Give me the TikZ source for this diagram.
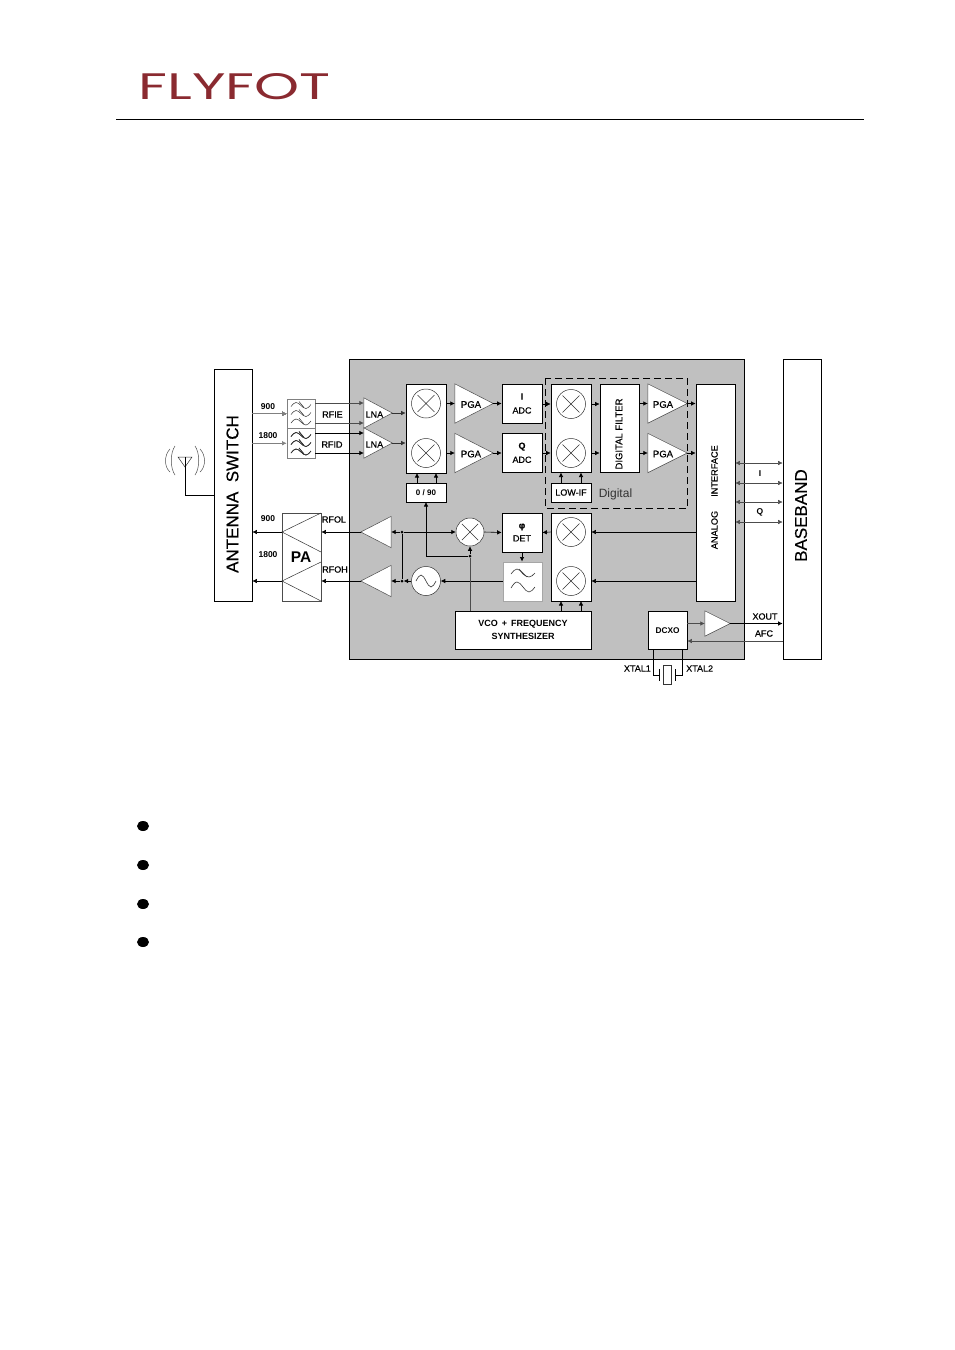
\documentclass[tikz,border=0pt]{standalone}
\usepackage{fontspec}
\setmainfont{Liberation Sans}
\newfontfamily\fb{Liberation Sans}[FakeBold=0.35]
\newfontfamily\logofont{Poppins}
\usetikzlibrary{arrows.meta,calc}
\definecolor{blockgrey}{HTML}{C0C0C0}
\definecolor{logored}{HTML}{8A2A30}
\tikzset{
  box/.style={draw=black,fill=white,line width=0.7pt,inner sep=0pt,align=center,font=\fb\fontsize{9}{11}\selectfont},
  greybox/.style={box,draw=gray,line width=0.8pt},
  lfbox/.style={box,draw=black!35,line width=1pt},
  hollow/.style={inner sep=0pt,font=\fb\fontsize{9.5}{11}\selectfont},
  arr/.style={-{Latex[length=4.5pt,width=4.5pt]},line width=0.6pt},
  darr/.style={{Latex[length=4.5pt,width=4.5pt]}-{Latex[length=4.5pt,width=4.5pt]},line width=0.5pt,draw=black!70},
  wire/.style={line width=0.6pt},
  tiny/.style={inner sep=0pt,font=\fb\fontsize{9}{10}\selectfont},
  tinyb/.style={inner sep=0pt,font=\bfseries\fontsize{8.5}{10}\selectfont},
  tri/.style={draw=black!70,fill=white,line width=0.5pt},
  wave/.style={line width=0.5pt,draw=black!80},
  junction/.style={circle,fill=black,inner sep=0pt,minimum size=3pt},
}
\newcommand{\bx}[7]{\node[#6,minimum width={(#4-#2)*1pt},minimum height={(#5-#3)*1pt}] (#1) at ({(#2+#4)/2},{(#3+#5)/2}) {#7};}
% mixer circle
\newcommand{\mix}[4]{\node[draw=black!80,fill=white,circle,line width=0.5pt,inner sep=0pt,minimum size={2*#4*1pt}] (#1) at (#2,#3) {};
  \draw[line width=0.5pt,draw=black!80] ($(#1)+({-.58*#4},{-.58*#4})$) -- ($(#1)+({.58*#4},{.58*#4})$) ($(#1)+({-.58*#4},{.58*#4})$) -- ($(#1)+({.58*#4},{-.58*#4})$);}
% wave with a slash: centre x, y
\newcommand{\wv}[2]{\draw[wave] (#1-10,#2+1) sin (#1-5,#2-3) cos (#1,#2) sin (#1+5,#2+3) cos (#1+10,#2-1);
  \draw[wave] (#1-2,#2-4) -- (#1+3,#2+2);}
\begin{document}
\begin{tikzpicture}[x=1pt,y=-1pt]
\useasboundingbox (0,0) rectangle (954,1350);
\fill[white] (0,0) rectangle (954,1350);

% header
\node[inner sep=0pt,text=logored] (logo) at (234.5,87) {\resizebox{192pt}{26pt}{\logofont FLYFOT}};
\coordinate (ruleL) at (116,119.5); \coordinate (ruleR) at (864,119.5);
\draw[line width=0.8pt] (ruleL) -- (ruleR);

% bullets
\foreach \yy in {826,865,904,942} \fill (143,\yy) ellipse (6 and 5);

% grey block
\bx{chip}{349}{359}{744.5}{659}{box,fill=blockgrey}{}

% outer boxes
\bx{sw}{214}{369}{252}{601}{box}{}
\node[rotate=90,inner sep=0pt,font=\fb\fontsize{17}{17}\selectfont] (swlab) at (232.5,494) {ANTENNA\ \ SWITCH};
\bx{bb}{783}{359}{821}{659}{box}{}
\node[rotate=90,inner sep=0pt,font=\fb\fontsize{17}{17}\selectfont] (bblab) at (801,515.5) {BASEBAND};

% antenna
\coordinate (antT) at (185,467);
\coordinate (antC) at (185,495);
\draw[line width=0.5pt,draw=black!80] (178,457) -- (192,457) -- (antT) -- cycle;
\draw[line width=0.6pt] (185,457) -- (antC) -- (antC -| sw.west);
\draw[line width=0.5pt,draw=black!70] (175,446) .. controls (170,453) and (170,468) .. (175,475);
\draw[line width=0.5pt,draw=black!70] (170,449) .. controls (164,455) and (164,467) .. (170,472);
\draw[line width=0.5pt,draw=black!70] (195,446) .. controls (200,453) and (200,468) .. (195,475);
\draw[line width=0.5pt,draw=black!70] (200,449) .. controls (206,455) and (206,467) .. (200,472);

% receive filters
\bx{fa}{287}{399}{315}{428.5}{greybox}{}
\bx{fb}{287}{428.5}{315}{458}{greybox}{}
\foreach \yy in {405.5,413.5,422} \wv{301}{\yy}
\foreach \yy in {435.5,443.5,452} \wv{301}{\yy}
\draw[arr,draw=gray] (sw.east |- fa.west) -- (fa.west);
\draw[arr,draw=gray] (sw.east |- fb.west) -- (fb.west);
\node[tinyb] (n900a) at (268,407) {900};
\node[tinyb] (n1800a) at (268,436) {1800};
\node[tiny] (rfie) at (332.5,414.5) {RFIE};
\node[tiny] (rfid) at (332,444.5) {RFID};

% LNA
\node[hollow,minimum width=28pt,minimum height=30pt] (lna1) at (378,413) {};
\node[hollow,minimum width=28pt,minimum height=30pt] (lna2) at (378,443) {};
\draw[tri] (lna1.north west) -- (lna1.east) -- (lna1.south west) -- cycle;
\draw[tri] (lna2.north west) -- (lna2.east) -- (lna2.south west) -- cycle;
\node[tiny,anchor=west] at (365.5,414.5) {LNA};
\node[tiny,anchor=west] at (365.5,444.5) {LNA};
\coordinate (pa1) at (315,403); \coordinate (pa2) at (315,423);
\coordinate (pb1) at (315,433); \coordinate (pb2) at (315,453);
\draw[arr,draw=black!70] (pa1) -- (pa1 -| lna1.west);
\draw[arr,draw=black!70] (pa2) -- (pa2 -| lna1.west);
\draw[arr] (pb1) -- (pb1 -| lna2.west);
\draw[arr] (pb2) -- (pb2 -| lna2.west);

% first mixers
\bx{mxa}{406}{384}{446}{473}{box}{}
\mix{ma1}{426}{403.5}{14.5}
\mix{ma2}{426}{453}{14.5}
\draw[arr,draw=black!80] (lna1.east) -- (lna1.east -| mxa.west);
\draw[arr,draw=black!80] (lna2.east) -- (lna2.east -| mxa.west);
\bx{ph}{406}{483}{446}{502}{box,font=\bfseries\fontsize{8}{10}\selectfont}{0 / 90}
\draw[arr] (417,483) -- (417,473);
\draw[arr] (436,483) -- (436,473);

% PGA 1
\node[hollow,minimum width=38pt,minimum height=39pt] (pg1) at (474,403.5) {};
\node[hollow,minimum width=38pt,minimum height=39pt] (pg2) at (474,453) {};
\draw[tri] (pg1.north west) -- (pg1.east) -- (pg1.south west) -- cycle;
\draw[tri] (pg2.north west) -- (pg2.east) -- (pg2.south west) -- cycle;
\node[hollow] at (471,404.5) {PGA};
\node[hollow] at (471,454) {PGA};
\draw[arr] (ma1 -| mxa.east) -- (pg1.west);
\draw[arr] (ma2 -| mxa.east) -- (pg2.west);

% ADC
\bx{adi}{502}{384}{542}{423}{box}{\textbf{I}\\[3pt]ADC}
\bx{adq}{502}{433}{542}{472.5}{box}{\textbf{Q}\\[3pt]ADC}
\draw[arr] (pg1.east) -- (pg1.east -| adi.west);
\draw[arr] (pg2.east) -- (pg2.east -| adq.west);

% dashed digital
\coordinate (dg1) at (545,378); \coordinate (dg2) at (687.5,508);
\draw[line width=0.7pt,dash pattern=on 7pt off 4pt] (dg1) rectangle (dg2);

% digital mixers
\bx{mxb}{551}{384}{591}{472.5}{box}{}
\mix{mb1}{571}{404}{14.5}
\mix{mb2}{571}{453}{14.5}
\bx{lowif}{551}{483}{591}{502}{box}{LOW-IF}
\draw[arr] (561,483) -- (561,472.5);
\draw[arr] (581,483) -- (581,472.5);
\node[inner sep=0pt,text=black!80,font=\fontsize{12}{14}\selectfont] (dig) at (615.5,494.5) {Digital};
\draw[arr] (mb1 -| adi.east) -- (mb1 -| mxb.west);
\draw[arr] (mb2 -| adq.east) -- (mb2 -| mxb.west);

% digital filter
\bx{dfl}{600}{384}{639}{472.5}{box}{}
\node[rotate=90,inner sep=0pt,font=\fb\fontsize{9.5}{11}\selectfont] (dfltx) at (619,434) {DIGITAL FILTER};
\draw[arr] (mb1 -| mxb.east) -- (mb1 -| dfl.west);
\draw[arr] (mb2 -| mxb.east) -- (mb2 -| dfl.west);

% PGA 2
\node[hollow,minimum width=39pt,minimum height=39pt] (pg3) at (667.5,403.5) {};
\node[hollow,minimum width=39pt,minimum height=39pt] (pg4) at (667.5,453) {};
\draw[tri] (pg3.north west) -- (pg3.east) -- (pg3.south west) -- cycle;
\draw[tri] (pg4.north west) -- (pg4.east) -- (pg4.south west) -- cycle;
\node[hollow] at (663,404.5) {PGA};
\node[hollow] at (663,454) {PGA};
\draw[arr] (pg3.west -| dfl.east) -- (pg3.west);
\draw[arr] (pg4.west -| dfl.east) -- (pg4.west);

% analog interface
\bx{ai}{696}{384}{735}{601}{box}{}
\node[rotate=90,inner sep=0pt,font=\fb\fontsize{9.2}{10}\selectfont] (aitx1) at (714.5,471) {INTERFACE};
\node[rotate=90,inner sep=0pt,font=\fb\fontsize{9.2}{10}\selectfont] (aitx2) at (714.5,530) {ANALOG};
\draw[arr] (pg3.east) -- (pg3.east -| ai.west);
\draw[arr] (pg4.east) -- (pg4.east -| ai.west);

% baseband IQ
\foreach \yy in {463,483,502,522} \draw[darr] (ai.east |- 0,\yy) -- (bb.west |- 0,\yy);
\node[tinyb] (ilab) at (760,474) {I};
\node[tinyb] (qlab) at (760,512.5) {Q};

% PA
\bx{pa}{282}{513}{321}{601}{box,draw=black!70}{}
\coordinate (pat1) at (282,532); \coordinate (pat2) at (282,581);
\draw[line width=0.5pt,draw=black!80] (321,513) -- (pat1) -- (321,552);
\draw[line width=0.5pt,draw=black!80] (321,562) -- (pat2) -- (321,601);
\node[inner sep=0pt,font=\bfseries\fontsize{15.5}{17}\selectfont] (palab) at (301,557) {PA};
\draw[arr] (pat1) -- (pat1 -| sw.east);
\draw[arr] (pat2) -- (pat2 -| sw.east);
\node[tinyb] (n900b) at (268,519) {900};
\node[tinyb] (n1800b) at (268,555) {1800};
\node[tiny] (rfol) at (334,519.5) {RFOL};
\node[tiny] (rfoh) at (335,569.5) {RFOH};

% driver triangles
\node[hollow,minimum width=30pt,minimum height=31pt] (dr1) at (376,532) {};
\node[hollow,minimum width=30pt,minimum height=31pt] (dr2) at (376,581) {};
\draw[tri] (dr1.north east) -- (dr1.west) -- (dr1.south east) -- cycle;
\draw[tri] (dr2.north east) -- (dr2.west) -- (dr2.south east) -- cycle;
\draw[arr] (dr1.west) -- (dr1.west -| pa.east);
\draw[arr] (dr2.west) -- (dr2.west -| pa.east);

% loop
\mix{mc}{470}{532}{14}
\node[draw=black!80,fill=white,circle,line width=0.5pt,inner sep=0pt,minimum size=29pt] (osc) at (426,581) {};
\draw[line width=0.6pt,draw=black!80] (416,581) sin (421,575) cos (426,581) sin (431,587) cos (436,581);
\bx{det}{502}{513}{542}{552}{box}{\textbf{φ}\\[2pt]DET}
\bx{lf}{503}{562}{542}{601}{lfbox}{}
\draw[wave,line width=0.6pt] (511,574) sin (517,569) cos (523,574) sin (529,577) cos (535,573);
\draw[wave,line width=0.6pt] (519,569) -- (527,577);
\draw[wave,line width=0.6pt] (511,588) sin (517,582) cos (523,587) sin (529,592) cos (535,587);
\bx{mxc}{551}{513}{591}{601}{box}{}
\mix{mc1}{571}{532}{14.5}
\mix{mc2}{571}{581}{14.5}
\bx{vco}{455}{611}{591}{649.5}{box,font=\bfseries\fontsize{9}{13}\selectfont}{VCO \,+\, FREQUENCY\\SYNTHESIZER}

\node[junction] (j1) at (402,532) {};
\node[junction] (j2) at (402,581) {};
\node[junction] (j3) at (470,556) {};
\draw[arr] (j1) -- (dr1.east);
\draw[arr] (j2) -- (dr2.east);
\draw[wire] (j1) -- (j2);
\draw[arr] (j1) -- (mc.west);
\draw[arr] (mc.east) -- (det.west);
\draw[arr] (mc1 -| mxc.west) -- (det.east);
\draw[arr] (det.south) -- (det.south |- lf.north);
\draw[arr] (lf.west |- osc) -- (osc.east);
\draw[arr] (osc.west) -- (j2);
\draw[arr] (mc1 -| ai.west) -- (mc1 -| mxc.east);
\draw[arr] (mc2 -| ai.west) -- (mc2 -| mxc.east);
\draw[arr] (j3) -- (mc.south);
\draw[wire,draw=black!70] (vco.north -| j3) -- (j3);
\draw[arr] (j3) -- (426,556) -- (426,502);
\draw[arr] (561,611) -- (561,601);
\draw[arr] (581,611) -- (581,601);

% DCXO
\bx{dcxo}{648}{611}{687}{649.5}{box,font=\bfseries\fontsize{8.3}{10}\selectfont}{DCXO}
\node[hollow,minimum width=25pt,minimum height=25pt] (xa) at (717.5,623.5) {};
\draw[tri] (xa.north west) -- (xa.east) -- (xa.south west) -- cycle;
\draw[arr,draw=black!70] (xa.west -| dcxo.east) -- (xa.west);
\draw[arr] (xa.east) -- (xa.east -| bb.west);
\coordinate (afc) at (783,641);
\draw[arr,draw=black!70] (afc) -- (afc -| dcxo.east);
\node[tiny] (xout) at (765,616.5) {XOUT};
\node[tiny] (afclab) at (764,633.5) {AFC};

% crystal
\bx{xt}{663}{665}{671}{684}{box,draw=black!80,line width=0.5pt}{}
\coordinate (xl) at (653,675); \coordinate (xr) at (682,675);
\draw[wire] (xl |- dcxo.south) -- (xl) -- (659,675);
\draw[wire] (xr |- dcxo.south) -- (xr) -- (675,675);
\draw[wire] (659,669) -- (659,681);
\draw[wire] (675,669) -- (675,681);
\node[tiny,anchor=east] (x1lab) at (651,668.5) {XTAL1};
\node[tiny,anchor=west] (x2lab) at (686,668.5) {XTAL2};
\end{tikzpicture}
\end{document}
